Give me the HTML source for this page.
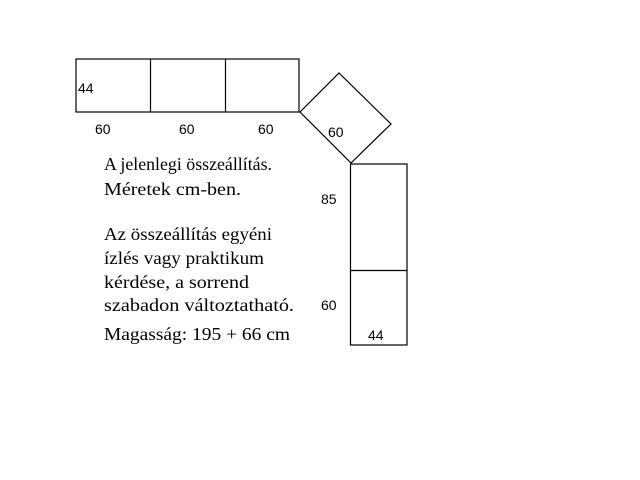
<!DOCTYPE html>
<html><head><style>body{margin:0;background:#fff}</style></head><body>
<svg width="640" height="480" xmlns="http://www.w3.org/2000/svg" style="display:block">
<rect width="640" height="480" fill="#fff"/>
<g fill="none" stroke="#000" stroke-width="1.2">
<rect x="76" y="59" width="223" height="53"/>
<line x1="150.5" y1="59" x2="150.5" y2="112"/>
<line x1="225.5" y1="59" x2="225.5" y2="112"/>
<polygon points="300,112 339,73 391,124 351,163"/>
<rect x="350.5" y="164" width="56.5" height="181"/>
<line x1="350" y1="270.5" x2="407" y2="270.5"/>
</g>
<g font-family="Liberation Sans, sans-serif" font-size="14" fill="#000">
<text x="78" y="93">44</text>
<text x="95" y="134">60</text>
<text x="179" y="134">60</text>
<text x="258" y="134">60</text>
<text x="328" y="137">60</text>
<text x="321" y="204">85</text>
<text x="321" y="310">60</text>
<text x="368" y="340">44</text>
</g>
<g font-family="Liberation Serif, serif" font-size="18" fill="#000" lengthAdjust="spacingAndGlyphs">
<text x="104" y="170" textLength="168" lengthAdjust="spacingAndGlyphs">A jelenlegi összeállítás.</text>
<text x="104" y="195" textLength="137" lengthAdjust="spacingAndGlyphs">Méretek cm-ben.</text>
<text x="104" y="240" textLength="168" lengthAdjust="spacingAndGlyphs">Az összeállítás egyéni</text>
<text x="104" y="264" textLength="160" lengthAdjust="spacingAndGlyphs">ízlés vagy praktikum</text>
<text x="104" y="288" textLength="145" lengthAdjust="spacingAndGlyphs">kérdése, a sorrend</text>
<text x="104" y="311" textLength="190" lengthAdjust="spacingAndGlyphs">szabadon változtatható.</text>
<text x="104" y="340" textLength="186" lengthAdjust="spacingAndGlyphs">Magasság: 195 + 66 cm</text>
</g>
</svg>
</body></html>
